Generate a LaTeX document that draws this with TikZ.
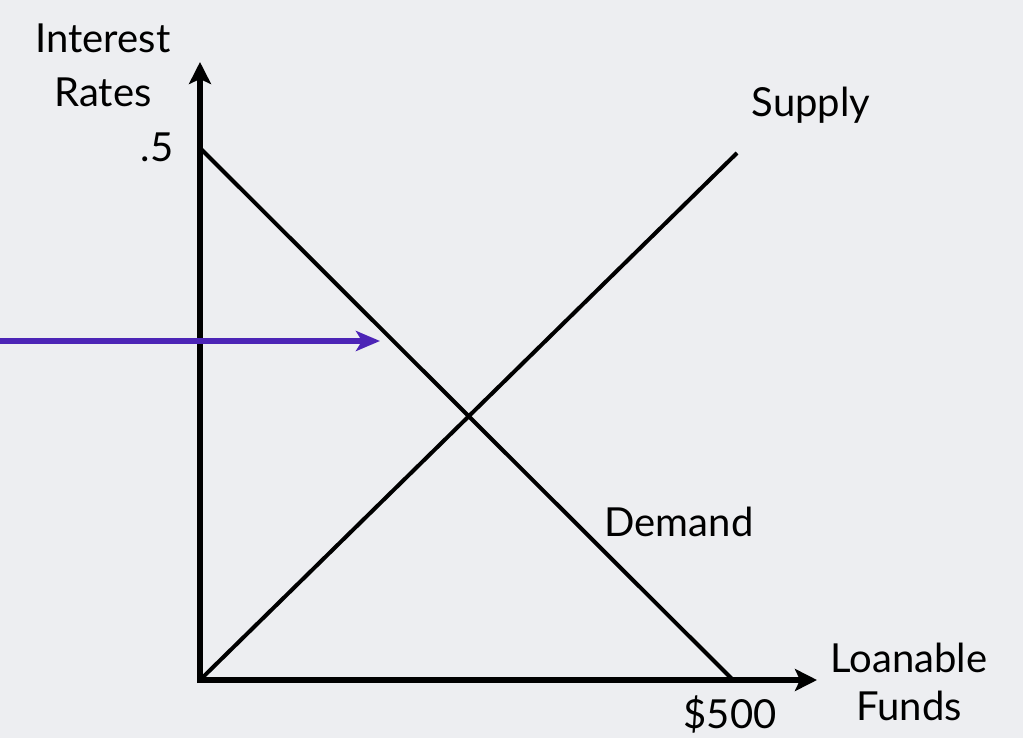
\documentclass[tikz,border=0pt]{standalone}
\usepackage{fontspec}
\setmainfont{Lato}
\usepackage{xcolor}
\usetikzlibrary{arrows.meta, positioning}
\definecolor{bgrey}{RGB}{237,238,241}
\definecolor{arrowpurple}{RGB}{76,36,182}

\begin{document}
\begin{tikzpicture}[
    x=1pt, y=-1pt,
    every node/.style={font=\fontsize{40}{48}\selectfont, inner sep=0pt, align=center},
    axis/.style={line width=6pt, -{Stealth[length=22pt, width=22pt, inset=5pt]}},
    curve/.style={line width=4pt},
    pointer/.style={line width=5.5pt, draw=arrowpurple, -{Stealth[length=24pt, width=20pt, inset=6pt]}}
]
    \fill[bgrey] (0,0) rectangle (1023,738);
    \useasboundingbox (0,0) rectangle (1023,738);

    \coordinate (origin) at (200,680);
    \coordinate (ytop) at (200,62);
    \coordinate (xend) at (817,680);
    \coordinate (dtop) at (200,148);
    \coordinate (dbot) at (733,680);
    \coordinate (stop) at (737,153);
    \coordinate (pstart) at (0,341);
    \coordinate (pend) at (380,341);

    \node (yname) at (103,65) {Interest\\[6pt]Rates};
    \node (rate) at (157,147) {.5};
    \node (supply) at (811,105) {Supply};
    \node (demand) at (679,522) {Demand};
    \node (xname) at (909,682) {Loanable\\Funds};
    \node (amount) at (730,714) {\$500};

    \draw[curve] (dtop) -- (dbot);
    \draw[curve] (origin) -- (stop);
    \draw[axis] (200,683) -- (ytop);
    \draw[axis] (197,680) -- (xend);
    \draw[pointer] (pstart) -- (pend);
\end{tikzpicture}
\end{document}
